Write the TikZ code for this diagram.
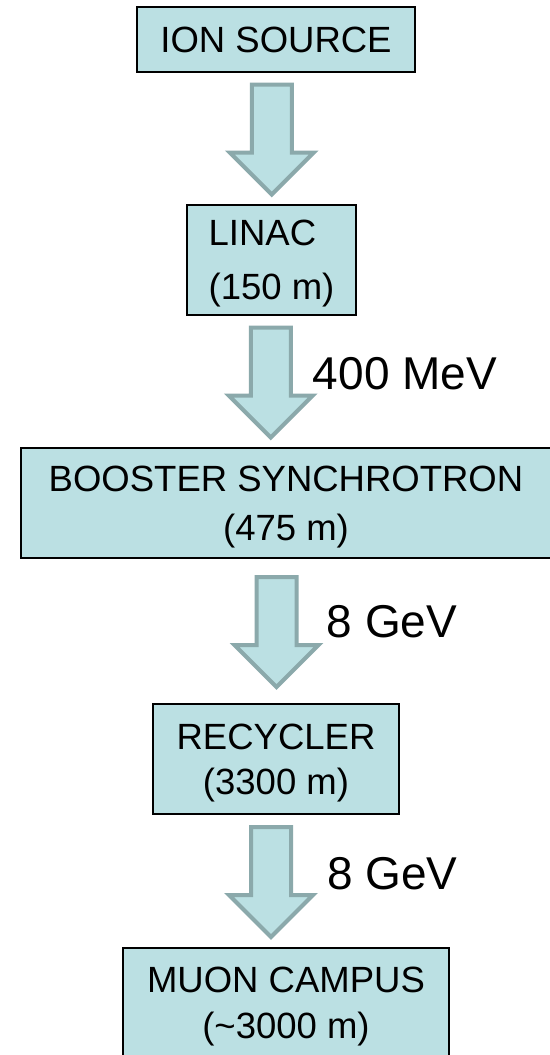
\documentclass[tikz,border=0pt]{standalone}
\usepackage{fontspec}
\setmainfont{Liberation Sans}
\usetikzlibrary{calc,shapes.arrows}
\definecolor{boxfill}{HTML}{BBE0E3}
\definecolor{arrowedge}{HTML}{8BA9AB}

\begin{document}
\begin{tikzpicture}[x=1pt, y=-1pt,
  box/.style={draw, line width=1.8pt, fill=boxfill, align=center, minimum height=110pt, inner sep=0pt, text depth=0pt, font=\fontsize{36.5}{49}\selectfont},
  barrow/.style={single arrow, draw=arrowedge, fill=boxfill, line width=4pt, minimum height=110pt, minimum width=80pt, single arrow head extend=22pt, inner sep=18pt, shape border rotate=270},
  lbl/.style={anchor=west, inner sep=0pt, font=\fontsize{46}{52}\selectfont}]
\useasboundingbox[fill=white] (0,0) rectangle (549,1055);
\node[box, minimum width=278pt, minimum height=65pt] (ion) at (276,39.5) {ION SOURCE};
\node[box, minimum width=169pt, align=left] (linac) at (271.5,260) {LINAC\\[5pt](150 m)};
\node[box, minimum width=530pt] (booster) at (286,503) {BOOSTER SYNCHROTRON\\(475 m)};
\node[box, minimum width=246pt] (recycler) at (276,759) {RECYCLER\\[-4pt](3300 m)};
\node[box, minimum width=326pt] (muon) at (286,1003) {MUON CAMPUS\\[-3pt](\textasciitilde 3000 m)};
\foreach \u/\v/\s/\n in {ion/linac/-2/1, linac/booster/-8/2, booster/recycler/-4.5/3, recycler/muon/-10/4}
  \node[barrow] (a\n) at ($(\u.south)!.5!(\v.north)+(\s,-9)$) {};
\node[lbl] (e400) at ($(a2)+(42,1)$) {400 MeV};
\node[lbl] (e8a) at ($(a3)+(50,0)$) {8 GeV};
\node[lbl] (e8b) at ($(a4)+(56,2)$) {8 GeV};
\end{tikzpicture}
\end{document}
